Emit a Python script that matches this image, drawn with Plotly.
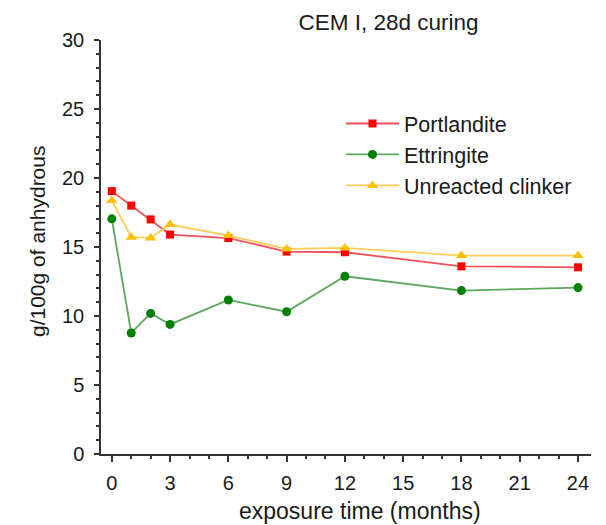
import plotly.graph_objects as go

months = [0, 1, 2, 3, 6, 9, 12, 18, 24]
portlandite = [19.05, 18.0, 17.0, 15.9, 15.65, 14.67, 14.62, 13.6, 13.53]
ettringite = [17.04, 8.77, 10.19, 9.39, 11.16, 10.31, 12.88, 11.84, 12.06]
clinker = [18.37, 15.71, 15.66, 16.63, 15.83, 14.86, 14.93, 14.38, 14.38]

series_names = ["Portlandite", "Ettringite", "Unreacted clinker"]
x_ticks = [0, 3, 6, 9, 12, 15, 18, 21, 24]
y_ticks = [0, 5, 10, 15, 20, 25, 30]

FONT = "Liberation Sans, Arial, sans-serif"
TXT = "#1a1a1a"

fig = go.Figure()
fig.add_trace(go.Scatter(
    x=months, y=portlandite, name=series_names[0], mode="lines+markers",
    line=dict(color="#f0505a", width=1.8),
    marker=dict(symbol="square", size=8, color="#ff0000")))
fig.add_trace(go.Scatter(
    x=months, y=ettringite, name=series_names[1], mode="lines+markers",
    line=dict(color="#5aa85a", width=1.8),
    marker=dict(symbol="circle", size=9, color="#008000")))
fig.add_trace(go.Scatter(
    x=months, y=clinker, name=series_names[2], mode="lines+markers",
    line=dict(color="#ffcc55", width=1.8),
    marker=dict(symbol="triangle-up", size=10, color="#ffc000")))

fig.update_layout(
    width=606, height=525,
    margin=dict(l=101, r=15, t=40, b=71),
    paper_bgcolor="white", plot_bgcolor="white",
    font=dict(family=FONT, color=TXT, size=20),
    title=dict(text="CEM I, 28d curing", x=388.5 / 606, xanchor="center",
               xref="container", y=1 - 22 / 525, yanchor="middle", yref="container",
               font=dict(size=22.5, family=FONT, color=TXT)),
    showlegend=True,
    legend=dict(x=(341 - 101) / 490, xanchor="left", y=(454 - 103) / 414, yanchor="top",
                bgcolor="rgba(0,0,0,0)", itemwidth=53,
                font=dict(size=21.5, family=FONT, color=TXT), tracegroupgap=0),
    xaxis=dict(range=[-0.556, 24.67], tickvals=x_ticks, ticktext=[str(v) for v in x_ticks],
               showgrid=False, zeroline=False, showline=True, linecolor="#333333", linewidth=1.5,
               ticks="outside", ticklen=6, tickwidth=1.5, tickcolor="#333333",
               minor=dict(dtick=1, ticks="outside", ticklen=3, tickwidth=1.5, tickcolor="#333333"),
               tickfont=dict(size=20, family=FONT, color=TXT), ticklabelstandoff=4),
    yaxis=dict(range=[0, 30], tickvals=y_ticks, ticktext=[str(v) for v in y_ticks],
               showgrid=False, zeroline=False, showline=True, linecolor="#333333", linewidth=1.5,
               ticks="outside", ticklen=5, tickwidth=1.5, tickcolor="#333333",
               minor=dict(dtick=1, ticks="outside", ticklen=3, tickwidth=1.5, tickcolor="#333333"),
               tickfont=dict(size=20, family=FONT, color=TXT), ticklabelstandoff=6),
    annotations=[
        dict(text="exposure time (months)", xref="paper", yref="paper",
             x=(359.5 - 101) / 490, y=(454 - 511) / 414, xanchor="center", yanchor="middle",
             showarrow=False, font=dict(size=23, family=FONT, color=TXT)),
        dict(text="g/100g of anhydrous", xref="paper", yref="paper",
             x=(38 - 101) / 490, y=(454 - 242) / 414, xanchor="center", yanchor="middle",
             textangle=-90, showarrow=False, font=dict(size=21, family=FONT, color=TXT)),
    ],
)

fig.write_html("out.html")
